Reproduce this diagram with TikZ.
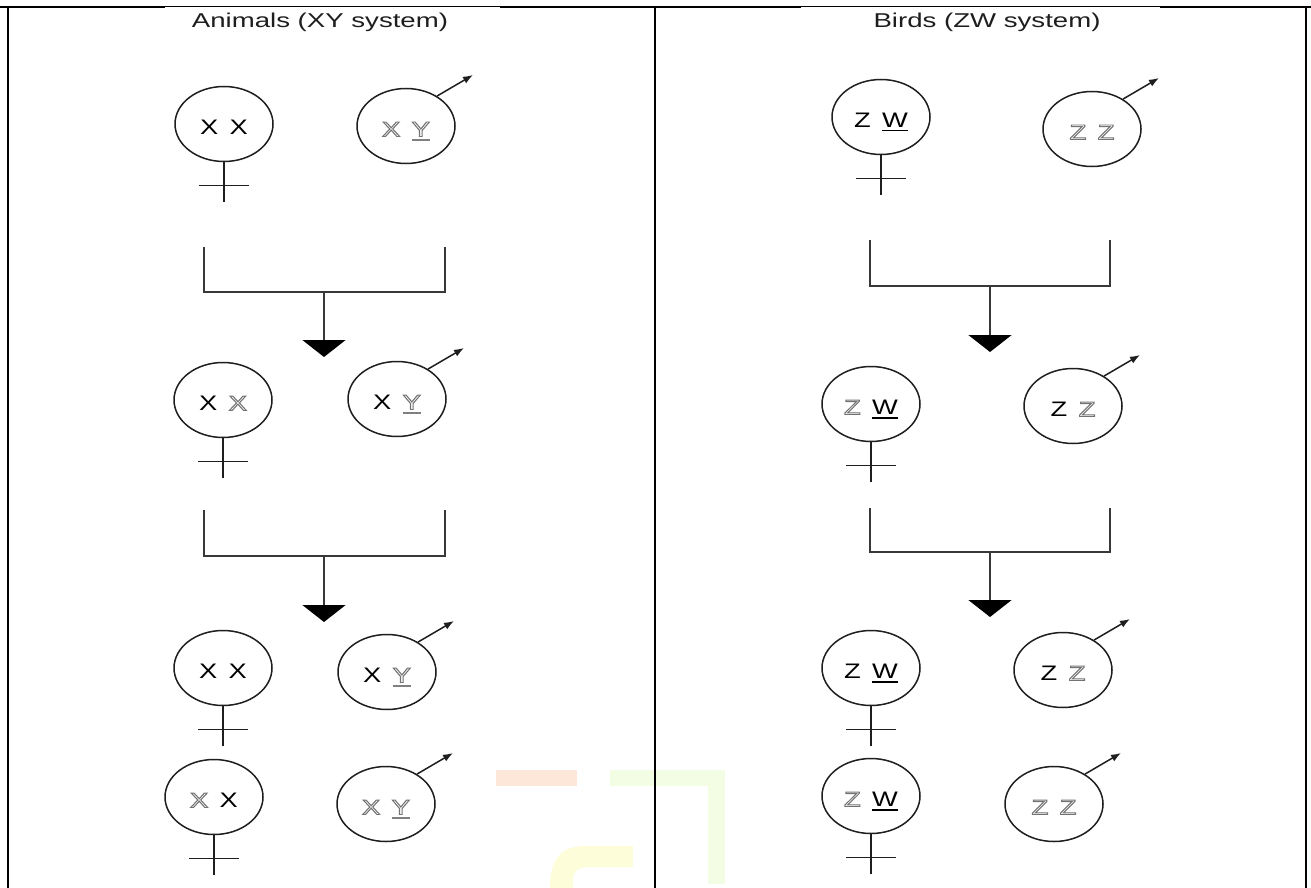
\documentclass[tikz,border=0pt]{standalone}
\usepackage{fontspec}
\setmainfont{Liberation Sans}
\usepackage{graphicx}
\usetikzlibrary{shapes.geometric,arrows.meta,calc}

\definecolor{ink}{HTML}{1E1E1E}
\definecolor{lineg}{HTML}{383838}
\definecolor{outl}{HTML}{808080}
\definecolor{wmorange}{HTML}{FDE7D9}
\definecolor{wmgreen}{HTML}{F3FDE4}
\definecolor{wmyellow}{HTML}{FDFED9}

% hollow (outlined) letter via the PDF text render mode, solid and hollow underlines
\newcommand{\hollow}[1]{\special{pdf:literal direct 1 Tr 0.9 w 0.45 G}#1\special{pdf:literal direct 0 Tr 0 G}}
\newcommand{\ulsolid}[1]{\setbox0\hbox{#1}\rlap{\rule[-4pt]{\wd0}{1.8pt}}\box0}
\newcommand{\ulhollow}[1]{\setbox0\hbox{#1}\rlap{\textcolor{outl}{\rule[-4.5pt]{\wd0}{2.4pt}}}\hollow{#1}}
% pair of chromosome letters, stretched sideways
\newcommand{\genes}[2]{\scalebox{1.3}[1]{#1\hspace{0.42em}#2}}

\tikzset{
  sexcircle/.style={ellipse, draw=ink, line width=1.5pt, minimum width=98pt,
    minimum height=75pt, inner sep=0pt, text height=21pt, text depth=0pt,
    font=\fontsize{21}{25}\selectfont},
  sexline/.style={draw=ink, line width=1.5pt},
  bracketline/.style={draw=lineg, line width=2pt},
  frameline/.style={draw=black, line width=2.6pt},
  thinframe/.style={draw=black, line width=1pt},
  title/.style={font=\fontsize{20}{24}\selectfont, text=ink, inner sep=0pt}
}

% female: circle with a stem and a cross bar
\newcommand{\femalesym}[4]{%
  \node[sexcircle] (#1) at (#2,#3) {#4};
  \coordinate (#1-foot) at ([yshift=-40pt]#1.south);
  \coordinate (#1-barL) at ([shift={(-25pt,-23pt)}]#1.south);
  \coordinate (#1-barR) at ([shift={(25pt,-23pt)}]#1.south);
  \draw[sexline] (#1.south) -- (#1-foot);
  \draw[sexline] (#1-barL) -- (#1-barR);
}
% male: circle with an arrow to the upper right
\newcommand{\malesym}[4]{%
  \node[sexcircle] (#1) at (#2,#3) {#4};
  \coordinate (#1-tip) at ([shift={(67pt,51pt)}]#1.center);
  \draw[sexline, -{Latex[length=10pt,width=7.5pt]}] (#1.44) -- (#1-tip);
}
% cross bracket with a down-pointing triangle
\newcommand{\crossing}[7]{% name, x left, x right, y top, y bottom, x mid, y tip
  \coordinate (#1-a) at (#2,#4);
  \coordinate (#1-b) at (#2,#5);
  \coordinate (#1-c) at (#3,#5);
  \coordinate (#1-d) at (#3,#4);
  \coordinate (#1-m) at (#6,#5);
  \coordinate (#1-t) at (#6,#7);
  \draw[bracketline] (#1-a) -- (#1-b) -- (#1-c) -- (#1-d);
  \draw[bracketline, -{Triangle[length=17pt,width=43pt,fill=black,color=black]}] (#1-m) -- (#1-t);
}

\begin{document}
\begin{tikzpicture}[x=1pt, y=-1pt]
\useasboundingbox (0,0) rectangle (1311,888);
\fill[white] (0,0) rectangle (1311,888);

% faint background mark
\fill[wmorange] (496,770) rectangle (577,786);
\fill[wmgreen] (610,770) rectangle (725,786);
\fill[wmgreen] (708,770) rectangle (725,884);
\fill[wmyellow] (633,846) -- (585,846) .. controls (560,846) and (550,860) .. (550,888)
  -- (573,888) -- (573,880) .. controls (573,871) and (578,867) .. (590,867) -- (633,867) -- cycle;

% table frame
\draw[frameline] (0,7) -- (165,7);
\draw[thinframe] (165,7) -- (500,7);
\draw[frameline] (500,7) -- (801,7);
\draw[thinframe] (801,7) -- (1160,7);
\draw[frameline] (1160,7) -- (1311,7);
\draw[frameline] (8,6) -- (8,888);
\draw[frameline] (655,6) -- (655,888);
\draw[frameline] (1306,6) -- (1306,888);

% titles
\node[title] (titleL) at (320,22) {\scalebox{1.38}[1]{Animals (XY system)}};
\node[title] (titleR) at (987,22) {\scalebox{1.38}[1]{Birds (ZW system)}};

% ---- XY system ----
\femalesym{aF1}{224}{124}{\genes{X}{X}}
\malesym{aM1}{406}{126}{\genes{\hollow{X}}{\ulhollow{Y}}}
\crossing{aC1}{204}{445}{247}{292}{324}{357}
\femalesym{aF2}{223}{400}{\genes{X}{\hollow{X}}}
\malesym{aM2}{397}{399}{\genes{X}{\ulhollow{Y}}}
\crossing{aC2}{204}{445}{510}{556}{324}{622}
\femalesym{aF3}{223}{668}{\genes{X}{X}}
\malesym{aM3}{387}{672}{\genes{X}{\ulhollow{Y}}}
\femalesym{aF4}{214}{797}{\genes{\hollow{X}}{X}}
\malesym{aM4}{386}{804}{\genes{\hollow{X}}{\ulhollow{Y}}}

% ---- ZW system ----
\femalesym{bF1}{881}{117}{\genes{Z}{\ulsolid{W}}}
\malesym{bM1}{1092}{129}{\genes{\hollow{Z}}{\hollow{Z}}}
\crossing{bC1}{870}{1110}{240}{286}{990}{352}
\femalesym{bF2}{871}{404}{\genes{\hollow{Z}}{\ulsolid{W}}}
\malesym{bM2}{1073}{406}{\genes{Z}{\hollow{Z}}}
\crossing{bC2}{870}{1110}{508}{552}{990}{617}
\femalesym{bF3}{871}{668}{\genes{Z}{\ulsolid{W}}}
\malesym{bM3}{1063}{670}{\genes{Z}{\hollow{Z}}}
\femalesym{bF4}{871}{796}{\genes{\hollow{Z}}{\ulsolid{W}}}
\malesym{bM4}{1054}{804}{\genes{\hollow{Z}}{\hollow{Z}}}
\end{tikzpicture}
\end{document}
